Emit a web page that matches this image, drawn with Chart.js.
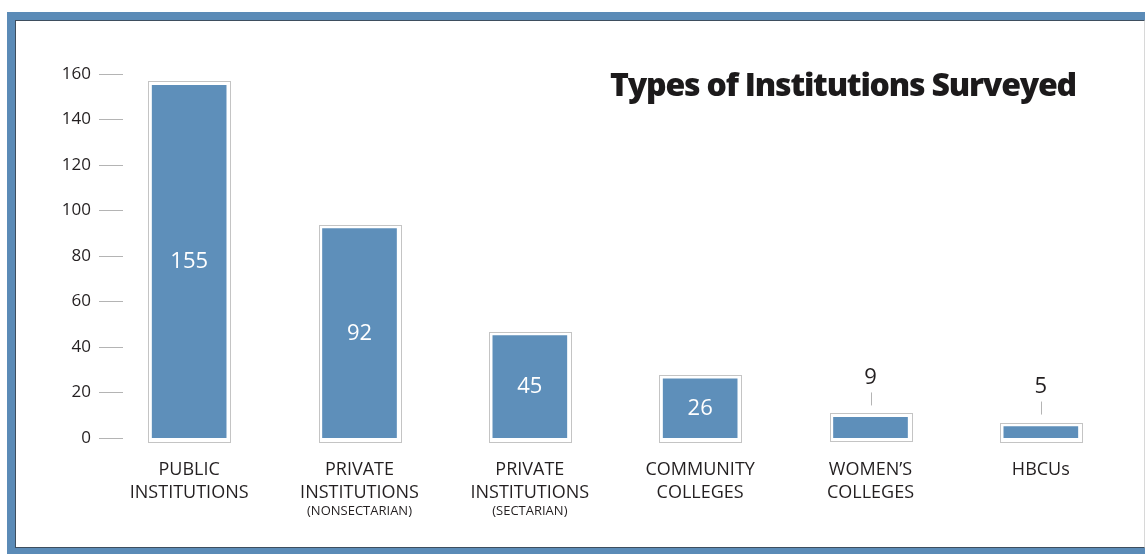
<!DOCTYPE html>
<html>
<head>
<meta charset="utf-8">
<script src="https://cdn.jsdelivr.net/npm/chart.js@4"></script>
<style>
  html, body { margin: 0; padding: 0; background: #fff; }
  body { width: 1146px; height: 554px; position: relative; overflow: hidden; }
  .frame {
    position: absolute; left: 7px; top: 12px; width: 1138px; height: 542px;
    box-sizing: border-box; background: #5b8bb7;
  }
  .inner {
    position: absolute; left: 8px; top: 8px; right: 0; bottom: 6px;
    background: #fff; border-top: 1px solid #3e4e5e; border-left: 1px solid #3e4e5e;
    border-bottom: 1px solid #3e4e5e; border-right: 1px solid #d8d8d8;
  }
  canvas { position: absolute; left: 0; top: 0; }
</style>
</head>
<body>
<div class="frame"><div class="inner"></div></div>
<canvas id="chart" width="1146" height="554"></canvas>
<script>
const categories = [
  ['PUBLIC', 'INSTITUTIONS'],
  ['PRIVATE', 'INSTITUTIONS'],
  ['PRIVATE', 'INSTITUTIONS'],
  ['COMMUNITY', 'COLLEGES'],
  ['WOMEN\u2019S', 'COLLEGES'],
  ['HBCUs']
];
const subLabels = ['', '(NONSECTARIAN)', '(SECTARIAN)', '', '', ''];
const counts = [155, 92, 45, 26, 9, 5];
const yTicks = [0, 20, 40, 60, 80, 100, 120, 140, 160];
const chartTitle = 'Types of Institutions Surveyed';

const FONT = "'Open Sans', 'DejaVu Sans', sans-serif";
const TEXT = '#231f20';
const BLUE = '#5e8fba';

// short dashes to the right of each y label, plus the bar outlines and value labels
const decorations = {
  id: 'decorations',
  afterDatasetsDraw(chart) {
    const { ctx, chartArea } = chart;
    const y = chart.scales.y;
    const x = chart.scales.x;
    ctx.save();
    ctx.strokeStyle = '#b4b4b4';
    ctx.lineWidth = 1;
    y.ticks.forEach(t => {
      const py = Math.round(y.getPixelForValue(t.value)) + 0.5;
      ctx.beginPath();
      ctx.moveTo(chartArea.left - 5, py);
      ctx.lineTo(chartArea.left + 19, py);
      ctx.stroke();
    });

    const meta = chart.getDatasetMeta(0);
    meta.data.forEach((bar, i) => {
      const half = bar.width / 2;
      const top = bar.y - 4;
      const bottom = bar.base + 4;
      ctx.strokeStyle = '#c4c4c4';
      ctx.strokeRect(Math.round(bar.x - half - 4) + 0.5, Math.round(top) + 0.5,
        Math.round(bar.width + 8), Math.round(bottom - top));

      const v = counts[i];
      ctx.textAlign = 'center';
      ctx.textBaseline = 'middle';
      ctx.font = '22px ' + FONT;
      if (v >= 20) {
        ctx.fillStyle = '#ffffff';
        ctx.fillText(String(v), bar.x, (bar.y + bar.base) / 2);
      } else {
        ctx.strokeStyle = '#b4b4b4';
        ctx.beginPath();
        ctx.moveTo(Math.round(bar.x) + 0.5, top - 8);
        ctx.lineTo(Math.round(bar.x) + 0.5, top - 21);
        ctx.stroke();
        ctx.fillStyle = TEXT;
        ctx.fillText(String(v), bar.x, top - 36);
      }
    });

    // smaller third line under two of the category labels
    ctx.font = '13px ' + FONT;
    ctx.fillStyle = TEXT;
    ctx.textBaseline = 'middle';
    subLabels.forEach((s, i) => {
      if (!s) return;
      ctx.fillText(s, x.getPixelForValue(i), chartArea.bottom + 73);
    });

    ctx.font = "800 32px 'Open Sans', sans-serif";
    ctx.letterSpacing = '-1.2px';
    ctx.textAlign = 'right';
    ctx.textBaseline = 'alphabetic';
    ctx.fillStyle = '#1c1a1b';
    ctx.fillText(chartTitle, chartArea.right - 50, chartArea.top + 22);
    ctx.restore();
  }
};

new Chart(document.getElementById('chart'), {
  type: 'bar',
  data: {
    labels: categories,
    datasets: [{
      data: counts,
      backgroundColor: BLUE,
      borderWidth: 0,
      barThickness: 74
    }]
  },
  options: {
    responsive: false,
    animation: false,
    layout: { padding: { top: 74, right: 20, bottom: 30, left: 0 } },
    plugins: { legend: { display: false }, tooltip: { enabled: false } },
    scales: {
      x: {
        grid: { display: false, drawTicks: false },
        border: { display: false },
        ticks: {
          padding: 20,
          color: TEXT,
          font: { family: FONT, size: 18, lineHeight: 1.28 },
          maxRotation: 0,
          autoSkip: false
        }
      },
      y: {
        min: 0,
        max: 160,
        afterBuildTicks(scale) { scale.ticks = yTicks.map(v => ({ value: v })); },
        afterFit(scale) { scale.width = 104; },
        grid: { display: false, drawTicks: false },
        border: { display: false },
        ticks: {
          padding: 13,
          color: TEXT,
          font: { family: FONT, size: 17 }
        }
      }
    }
  },
  plugins: [decorations]
});
</script>
</body>
</html>
